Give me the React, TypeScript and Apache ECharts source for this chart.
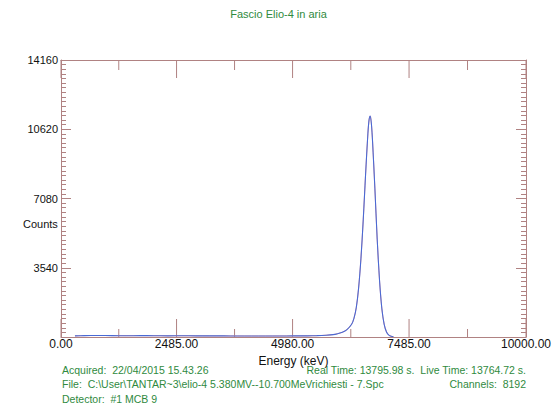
import React, { useEffect, useRef } from "react";
import * as echarts from "echarts";

// ---- data ----
const titleText = "Fascio Elio-4 in aria";
const xMajorTicks = [0, 2485, 4980, 7485, 10000];
const xMinorTicks = [1242.5, 3732.5, 6232.5, 8742.5];
const yMax = 14160;
const yInterval = 3540;

const energy = [
  300, 500, 800, 1100, 1400, 1700, 2000, 2300, 2600, 2900, 3200, 3500, 3800,
  4100, 4400, 4700, 5000, 5300, 5500, 5700, 5850, 5950, 6050, 6150, 6250,
  6300, 6350, 6400, 6450, 6500, 6550, 6600, 6625, 6650, 6675, 6700, 6750,
  6800, 6850, 6900, 6950, 7000, 7050, 7100, 7150,
];
const counts = [
  60, 70, 75, 70, 65, 70, 65, 60, 62, 58, 55, 55, 52,
  50, 50, 52, 55, 60, 70, 90, 120, 170, 240, 380, 650,
  950, 1500, 2500, 4000, 6000, 8300, 10400, 11100, 11300, 10900, 10000, 7600,
  5000, 2900, 1450, 650, 260, 100, 40, 15,
];
const fitCounts = counts.map((c) => c);

const footerLeft = [
  "Acquired:  22/04/2015 15.43.26",
  "File:  C:\\User\\TANTAR~3\\elio-4 5.380MV--10.700MeVrichiesti - 7.Spc",
  "Detector:  #1 MCB 9",
];
const footerRight = [
  "Real Time: 13795.98 s.  Live Time: 13764.72 s.",
  "Channels:  8192",
];

const GREEN = "#2f8a3e";
const FRAME = "#b08282";
const FONT = "Liberation Sans, Arial, sans-serif";

export default function App() {
  const ref = useRef<HTMLDivElement>(null);
  useEffect(() => {
    if (!ref.current) return;
    const chart = echarts.init(ref.current, undefined, { renderer: "svg" });
    const grid = { left: 61, right: 31, top: 60, bottom: 66 };
    const xBase = {
      type: "value" as const,
      min: 0,
      max: 10000,
      splitLine: { show: false },
    };
    const yBase = {
      type: "value" as const,
      min: 0,
      max: yMax,
      interval: yInterval,
      splitLine: { show: false },
      minorSplitLine: { show: false },
    };
    const data = energy.map((e, i) => [e, counts[i]]);
    const fitData = energy.map((e, i) => [e, fitCounts[i]]);
    const tickData = [
      ...xMajorTicks.map((v) => [v, 1]),
      ...xMinorTicks.map((v) => [v, 0]),
    ];
    const option: any = {
      animation: false,
      backgroundColor: "#ffffff",
      textStyle: { fontFamily: FONT },
      grid,
      xAxis: [
        {
          ...xBase,
          position: "bottom",
          axisLine: {
            show: true,
            onZero: false,
            lineStyle: { color: FRAME, width: 1 },
          },
          axisTick: { show: false },
          axisLabel: {
            show: true,
            customValues: xMajorTicks,
            formatter: (v: number) => v.toFixed(2),
            color: "#111",
            fontSize: 12,
            margin: 1,
            fontFamily: FONT,
          },
          name: "Energy (keV)",
          nameLocation: "middle",
          nameGap: 11.5,
          nameTextStyle: { color: "#111", fontSize: 12, fontFamily: FONT },
        },
        {
          ...xBase,
          position: "top",
          axisLine: {
            show: true,
            onZero: false,
            lineStyle: { color: FRAME, width: 1 },
          },
          axisTick: { show: false },
          axisLabel: { show: false },
        },
      ],
      yAxis: [
        {
          ...yBase,
          position: "left",
          axisLine: {
            show: true,
            onZero: false,
            lineStyle: { color: FRAME, width: 1 },
          },
          axisTick: {
            show: true,
            inside: true,
            length: 10,
            lineStyle: { color: FRAME },
          },
          minorTick: {
            show: true,
            splitNumber: 15,
            length: 5,
            lineStyle: { color: FRAME },
          },
          axisLabel: {
            show: true,
            color: "#111",
            fontSize: 11,
            margin: 3,
            formatter: (v: number) => (v === 0 ? "" : String(v)),
            fontFamily: FONT,
          },
        },
        {
          ...yBase,
          position: "right",
          axisLine: {
            show: true,
            onZero: false,
            lineStyle: { color: FRAME, width: 1 },
          },
          axisTick: {
            show: true,
            inside: true,
            length: 10,
            lineStyle: { color: FRAME },
          },
          minorTick: {
            show: true,
            splitNumber: 15,
            length: 5,
            lineStyle: { color: FRAME },
          },
          axisLabel: { show: false },
        },
      ],
      series: [
        {
          type: "custom",
          xAxisIndex: 0,
          yAxisIndex: 0,
          data: tickData,
          silent: true,
          clip: false,
          renderItem: (params: any, api: any) => {
            const v = api.value(0);
            const major = api.value(1) === 1;
            const x = api.coord([v, 0])[0];
            const yb = api.coord([v, 0])[1];
            const yt = api.coord([v, yMax])[1];
            const lb = major ? 18 : 8;
            const lt = major ? 18 : 10;
            return {
              type: "group",
              children: [
                {
                  type: "line",
                  shape: { x1: x, y1: yb, x2: x, y2: yb - lb },
                  style: { stroke: FRAME, lineWidth: 1 },
                },
                {
                  type: "line",
                  shape: { x1: x, y1: yt, x2: x, y2: yt + lt },
                  style: { stroke: FRAME, lineWidth: 1 },
                },
              ],
            };
          },
        },
        {
          type: "line",
          xAxisIndex: 0,
          yAxisIndex: 0,
          data: fitData,
          showSymbol: false,
          smooth: 0.3,
          lineStyle: { color: "#ee9a9a", width: 1 },
          silent: true,
        },
        {
          type: "line",
          xAxisIndex: 0,
          yAxisIndex: 0,
          data,
          showSymbol: false,
          smooth: 0.3,
          lineStyle: { color: "#4a6ad4", width: 1.1 },
          silent: true,
        },
      ],
      graphic: [
        {
          type: "text",
          left: "center",
          top: 8,
          style: { text: titleText, fill: GREEN, fontSize: 11, fontFamily: FONT },
        },
        {
          type: "text",
          x: 23,
          y: 218,
          style: { text: "Counts", fill: "#111", fontSize: 11, fontFamily: FONT },
        },
        ...footerLeft.map((t, i) => ({
          type: "text",
          x: 62,
          y: 364 + i * 14.5,
          style: { text: t, fill: GREEN, fontSize: 10.5, fontFamily: FONT },
        })),
        ...footerRight.map((t, i) => ({
          type: "text",
          x: 526,
          y: 364 + i * 14.5,
          style: {
            text: t,
            fill: GREEN,
            fontSize: 10.5,
            align: "right",
            fontFamily: FONT,
          },
        })),
      ],
    };
    chart.setOption(option);
    return () => chart.dispose();
  }, []);
  return (
    <div
      ref={ref}
      style={{ width: 557, height: 403, position: "absolute", left: 0, top: 0 }}
    />
  );
}
